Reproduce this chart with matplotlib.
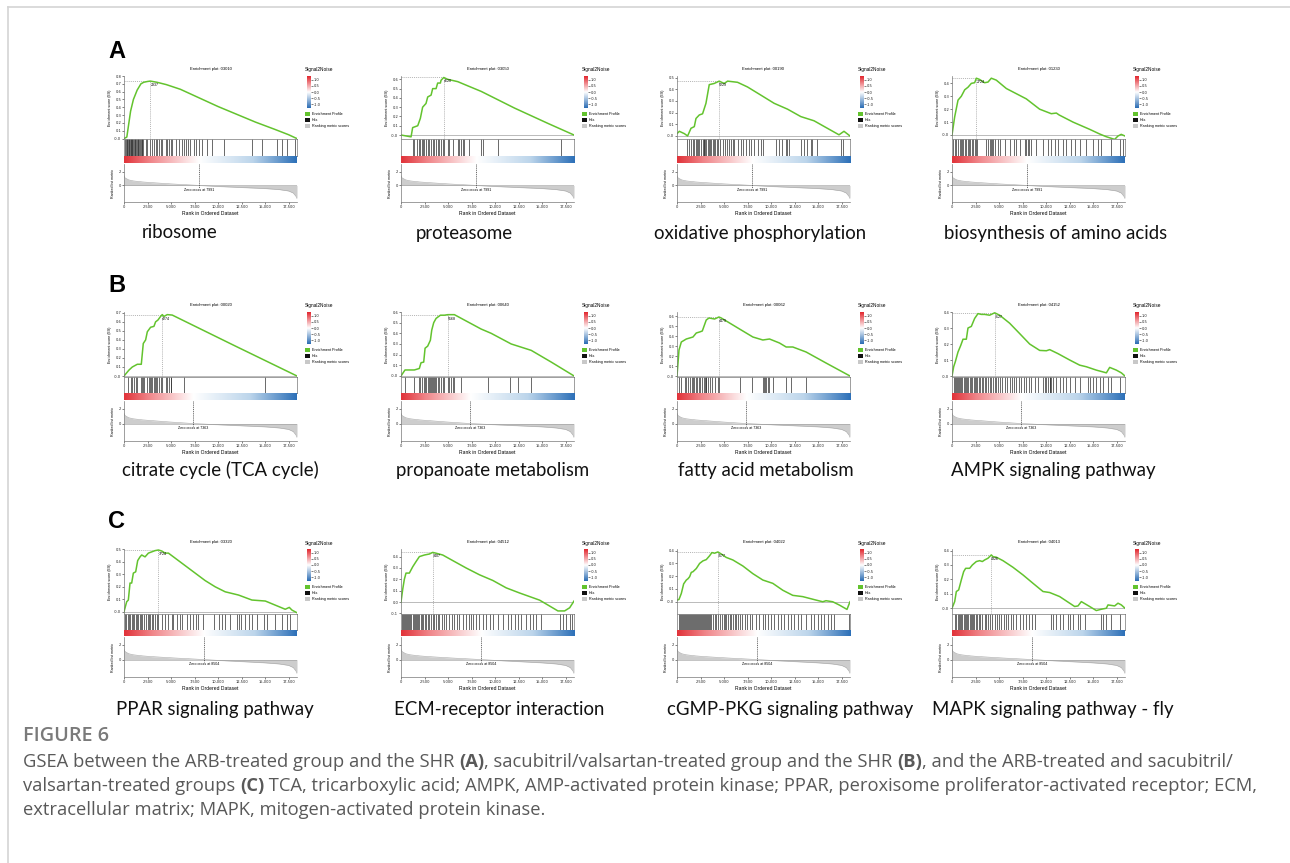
import numpy as np
import matplotlib
matplotlib.use('Agg')
import matplotlib.pyplot as plt
from matplotlib.colors import LinearSegmentedColormap
from matplotlib.patches import Rectangle

W, H = 1290, 863

# ---------------- data ----------------
PATHWAYS = ['ribosome', 'proteasome', 'oxidative phosphorylation', 'biosynthesis of amino acids',
            'citrate cycle (TCA cycle)', 'propanoate metabolism', 'fatty acid metabolism', 'AMPK signaling pathway',
            'PPAR signaling pathway', 'ECM-receptor interaction', 'cGMP-PKG signaling pathway',
            'MAPK signaling pathway - fly']
KEGG_IDS = ['03010', '03050', '00190', '01230', '00020', '00640', '00062', '04152',
            '03320', '04512', '04022', '04013']
PEAK_LABELS = ['2937', '4620', '5229', '2724', '4274', '5168', '4479', '3127',
               '3724', '3407', '3577', '4326']
ROW_LETTERS = ['A', 'B', 'C']
ZERO_CROSS = [7991, 7363, 8504]
N_GENES = 18400
X_TICKS = [0, 2500, 5000, 7500, 10000, 12500, 15000, 17500]
X_TICK_LABELS = ['0', '2,500', '5,000', '7,500', '10,000', '12,500', '15,000', '17,500']

# ranked list metric (same shape per row, shifted zero cross)
RANK_METRIC = [1.4, 1.1, 0.8, 0.65, 0.5, 0.4, 0.22, 0.0, -0.15, -0.3, -0.45, -0.6, -0.8, -1.1, -1.6, -1.9]
RANK_POS_A = [0, 100, 500, 1000, 2000, 3000, 5000, 7991, 10000, 12500, 15000, 16500, 17500, 18000, 18300, 18400]
RANK_POS_B = [0, 100, 500, 1000, 2000, 3000, 4800, 7363, 9800, 12400, 15000, 16500, 17500, 18000, 18300, 18400]
RANK_POS_C = [0, 100, 500, 1000, 2000, 3000, 5300, 8504, 10500, 12800, 15000, 16500, 17500, 18000, 18300, 18400]

# running enrichment scores (rank, ES)
ES_RIBOSOME = [(0, 0.0), (300, 0.02), (700, 0.35), (1000, 0.5), (1400, 0.62), (1800, 0.7), (2100, 0.72),
               (2500, 0.73), (2800, 0.735), (3500, 0.72), (4500, 0.69), (6000, 0.63), (8000, 0.52),
               (10000, 0.41), (12000, 0.31), (14000, 0.21), (16000, 0.12), (17500, 0.05), (18400, 0.0)]
ES_PROTEASOME = [(0, 0.0), (1070, -0.02), (1240, 0.08), (1780, 0.10), (2060, 0.18), (2300, 0.30), (2660, 0.34),
                 (2840, 0.41), (3200, 0.43), (3370, 0.50), (3730, 0.50), (3900, 0.56), (4190, 0.56), (4260, 0.59),
                 (4550, 0.62), (4970, 0.60), (6040, 0.575), (7100, 0.53), (8530, 0.47), (12080, 0.29),
                 (15630, 0.125), (18400, 0.0)]
ES_OXPHOS = [(0, 0.02), (250, 0.04), (780, 0.02), (1130, 0.0), (1490, 0.066), (1840, 0.08), (2020, 0.15),
             (2370, 0.18), (2720, 0.19), (3080, 0.28), (3430, 0.44), (3960, 0.45), (4490, 0.47), (5020, 0.45),
             (5380, 0.47), (6440, 0.46), (7500, 0.42), (8920, 0.35), (10330, 0.28), (11750, 0.23),
             (13170, 0.166), (14580, 0.13), (15990, 0.066), (17230, 0.01), (17760, 0.04), (18400, 0.0)]
ES_AMINO = [(0, 0.0), (283, 0.14), (640, 0.27), (990, 0.30), (1350, 0.35), (1700, 0.37), (2060, 0.40),
            (2410, 0.405), (2590, 0.44), (2940, 0.43), (3470, 0.405), (3830, 0.41), (4180, 0.44), (4710, 0.425),
            (5780, 0.36), (6840, 0.32), (7900, 0.28), (9320, 0.20), (10560, 0.165), (11100, 0.17), (11400, 0.155),
            (12870, 0.10), (14640, 0.044), (15700, 0.008), (16400, -0.013), (17300, -0.034), (17650, -0.008),
            (18000, 0.005), (18400, -0.008)]
ES_TCA = [(0, 0.0), (530, 0.066), (885, 0.10), (1415, 0.13), (1840, 0.13), (2050, 0.36), (2300, 0.40),
          (2480, 0.49), (2830, 0.54), (3185, 0.55), (3360, 0.60), (3610, 0.62), (3890, 0.66), (4070, 0.68),
          (4250, 0.66), (4600, 0.68), (5130, 0.675), (11680, 0.34), (18400, 0.0)]
ES_PROPANOATE = [(0, 0.0), (426, 0.056), (1420, 0.056), (1950, 0.07), (2130, 0.124), (2415, 0.13), (2560, 0.26),
                 (2840, 0.28), (3125, 0.335), (3270, 0.43), (3480, 0.50), (3730, 0.54), (4190, 0.57),
                 (4620, 0.57), (4970, 0.575), (5680, 0.575), (8525, 0.44), (9590, 0.40), (11720, 0.30),
                 (13850, 0.24), (15980, 0.13), (18400, 0.0)]
ES_FATTY = [(0, 0.0), (212, 0.26), (460, 0.34), (990, 0.37), (1700, 0.39), (2050, 0.43), (2400, 0.44),
            (2690, 0.45), (3110, 0.56), (3400, 0.58), (4000, 0.57), (4460, 0.59), (4710, 0.58), (6650, 0.47),
            (8070, 0.39), (9130, 0.36), (9840, 0.37), (10900, 0.33), (11610, 0.29), (12320, 0.29),
            (13730, 0.24), (15850, 0.13), (18400, 0.0)]
ES_AMPK = [(0, 0.0), (177, 0.058), (355, 0.09), (638, 0.15), (922, 0.19), (1170, 0.23), (1525, 0.23),
           (1700, 0.30), (2056, 0.31), (2410, 0.36), (2765, 0.39), (3120, 0.385), (3475, 0.385), (4000, 0.38),
           (4540, 0.395), (5070, 0.38), (6130, 0.33), (7200, 0.265), (8260, 0.20), (9330, 0.16), (10040, 0.158),
           (10390, 0.165), (11270, 0.14), (12520, 0.10), (13580, 0.068), (14290, 0.058), (15350, 0.037),
           (16420, 0.02), (16770, 0.054), (17480, 0.037), (18010, 0.02), (18400, 0.0)]
ES_PPAR = [(0, 0.0), (284, 0.08), (462, 0.094), (640, 0.23), (817, 0.23), (995, 0.31), (1243, 0.32),
           (1456, 0.41), (1705, 0.44), (1883, 0.455), (2238, 0.44), (2593, 0.47), (2948, 0.48), (3303, 0.49),
           (3659, 0.495), (4014, 0.487), (4369, 0.47), (4725, 0.47), (5790, 0.41), (7210, 0.33), (8630, 0.25),
           (9700, 0.20), (10760, 0.16), (12180, 0.134), (13600, 0.094), (15030, 0.086), (16090, 0.053),
           (17150, 0.02), (17580, 0.035), (17870, 0.013), (18400, -0.008)]
ES_ECM = [(0, 0.0), (178, 0.11), (355, 0.20), (533, 0.255), (888, 0.255), (1243, 0.31), (1598, 0.356),
          (1954, 0.40), (2486, 0.414), (3019, 0.423), (3374, 0.437), (3730, 0.43), (4440, 0.414), (5506, 0.365),
          (6927, 0.30), (8348, 0.24), (9769, 0.19), (11190, 0.125), (12610, 0.08), (14030, 0.038),
          (14740, 0.017), (15810, -0.035), (16690, -0.078), (17400, -0.078), (17940, -0.05), (18400, 0.009)]
ES_CGMP = [(0, 0.013), (212, 0.018), (460, 0.065), (708, 0.14), (991, 0.17), (1168, 0.18), (1345, 0.196),
           (1521, 0.23), (1698, 0.235), (2052, 0.26), (2406, 0.30), (2760, 0.32), (3114, 0.33), (3467, 0.36),
           (3715, 0.385), (3998, 0.38), (4352, 0.39), (4706, 0.374), (5237, 0.347), (5944, 0.327), (7005, 0.28),
           (8067, 0.22), (9129, 0.17), (10190, 0.144), (11252, 0.09), (12313, 0.05), (13375, 0.04),
           (14790, 0.013), (15500, 0.0), (15850, 0.008), (16560, 0.0), (17270, -0.026), (18080, -0.06),
           (18400, 0.0)]
ES_MAPK = [(0, 0.0), (284, 0.046), (461, 0.116), (709, 0.127), (993, 0.197), (1241, 0.254), (1453, 0.277),
           (1879, 0.277), (2162, 0.30), (2588, 0.324), (2942, 0.33), (3226, 0.324), (3474, 0.335), (3829, 0.347),
           (4183, 0.37), (4360, 0.358), (4715, 0.354), (5424, 0.33), (6487, 0.284), (7551, 0.231), (8615, 0.173),
           (9678, 0.116), (10387, 0.109), (11450, 0.081), (12514, 0.035), (13046, 0.012), (13400, 0.016),
           (13755, 0.046), (14641, 0.012), (15350, -0.016), (15882, -0.007), (16414, 0.0), (16591, 0.023),
           (17300, 0.016), (17655, 0.035), (18010, 0.023), (18400, 0.0)]

# gene set hit positions (ranks)
HITS_RIBOSOME = [150, 220, 300, 360, 420, 480, 560, 620, 700, 760, 830, 900, 980, 1050, 1130, 1200, 1290, 1370,
                 1450, 1540, 1620, 1700, 1790, 1880, 1960, 2050, 2300, 2480, 2760, 3000, 3200, 3360, 3540, 3720,
                 3890, 4070, 4420, 4600, 4780, 4950, 5130, 5480, 5840, 6190, 6370, 6550, 6790, 7000, 7430, 7610,
                 7960, 8310, 8840, 9370, 10680, 13620, 14680, 16270, 16800, 17330, 18220]
HITS_PROTEASOME = [1243, 1421, 1705, 1883, 2060, 2202, 2380, 2487, 2664, 2842, 3019, 3197, 3375, 3552, 3730,
                   3907, 4085, 4263, 4440, 4547, 4973, 5150, 5506, 6039, 6216, 6394, 6571, 6749, 7282, 8525,
                   8703, 10301, 17050]
HITS_OXPHOS = [1062, 1309, 1486, 1663, 1840, 2017, 2123, 2265, 2371, 2548, 2725, 2831, 2902, 3008, 3114, 3255,
               3362, 3468, 3609, 3786, 3963, 4069, 4246, 4388, 4600, 4848, 5095, 5308, 5555, 5732, 5909, 6086,
               6440, 6794, 6971, 7325, 7679, 7855, 8209, 8563, 8917, 9094, 10509, 10863, 11217, 11571, 11748,
               11925, 13163, 13517, 13871, 14225, 14402, 14933, 17409, 17692]
HITS_AMINO = [106, 284, 461, 638, 815, 922, 1064, 1170, 1347, 1524, 1702, 1808, 1950, 2092, 2233, 2411, 2588,
              2694, 3651, 3829, 4006, 4112, 4254, 4360, 4538, 4892, 5070, 5601, 6133, 6558, 6842, 7197, 7728,
              7905, 8082, 8189, 8437, 8969, 9678, 10210, 10564, 10919, 11273, 11805, 12160, 12692, 13046, 13578,
              14287, 14996, 15528, 15882, 16946, 17832, 18186]
HITS_TCA = [460, 708, 885, 1062, 1238, 1415, 1840, 1946, 2052, 2123, 2477, 2654, 2760, 2901, 3007, 3184, 3290,
            3432, 3538, 3715, 3892, 4069, 4423, 4600, 4777, 4954, 5024, 6369, 15037]
HITS_PROPANOATE = [426, 1421, 1954, 2060, 2202, 2415, 2557, 2664, 2842, 2948, 3055, 3197, 3303, 3410, 3552,
                   3659, 3765, 3907, 4085, 4263, 4440, 4618, 4973, 5150, 5328, 5506, 5683, 6394, 9306, 11544,
                   12432, 13853]
HITS_FATTY = [212, 460, 814, 991, 1168, 1345, 1557, 1698, 1805, 1982, 2158, 2335, 2477, 2689, 2831, 2937, 3043,
              3114, 3291, 3468, 3751, 3998, 4352, 4458, 6652, 7996, 9129, 9235, 9376, 9483, 9660, 9837, 10190,
              11606, 12136, 13728]
HITS_AMPK = [177, 284, 390, 532, 638, 744, 886, 993, 1099, 1241, 1383, 1524, 1631, 1737, 1879, 2021, 2162, 2304,
             2446, 2588, 2694, 2836, 3013, 3155, 3297, 3474, 3651, 3829, 4006, 4183, 4360, 4538, 4715, 4928,
             5140, 5353, 5601, 5849, 6133, 6416, 6629, 6842, 7125, 7374, 7622, 7905, 8189, 8437, 8792, 9146,
             9678, 9855, 10033, 10210, 10387, 10458, 10564, 10742, 11096, 11450, 11805, 12160, 12514, 13046,
             13578, 14464, 14712, 14996, 15350, 15705, 16059, 16591, 16946, 17832]
HITS_PPAR = [107, 249, 391, 533, 675, 817, 959, 1101, 1243, 1385, 1527, 1669, 1812, 1954, 2096, 2309, 2522,
             2664, 2806, 2948, 3126, 3303, 3481, 3659, 4014, 4369, 4724, 5079, 5257, 5612, 5967, 6145, 6678,
             7033, 7388, 7637, 7921, 8454, 9520, 10052, 10407, 10763, 11296, 12006, 12184, 12468, 12894, 13249,
             13604, 14137, 14848, 15203, 16091, 16801, 17334, 17689]
HITS_ECM = [107, 249, 355, 462, 568, 675, 781, 888, 995, 1101, 1243, 1350, 1456, 1598, 1705, 1847, 1954, 2096,
            2238, 2380, 2522, 2664, 2842, 3019, 3197, 3374, 3552, 3730, 3907, 4085, 4369, 4618, 4795, 5150,
            5435, 5683, 5932, 6216, 6571, 6927, 7211, 7459, 7637, 7992, 8348, 8703, 9058, 9413, 9768, 10301,
            10834, 11366, 11722, 12077, 12432, 12787, 13320, 13675, 14030, 14386, 14918, 16872, 17227, 17583,
            17938, 18222]
HITS_CGMP = [212, 354, 460, 566, 672, 778, 885, 991, 1097, 1203, 1309, 1415, 1521, 1628, 1734, 1840, 1946, 2052,
             2158, 2264, 2370, 2477, 2583, 2689, 2795, 2901, 3007, 3113, 3220, 3326, 3432, 3538, 3644, 3821,
             3998, 4175, 4387, 4599, 4812, 4953, 5095, 5236, 5413, 5590, 5767, 5944, 6121, 6298, 6510, 6722,
             6934, 7182, 7430, 7713, 7996, 8420, 8774, 9128, 9411, 9659, 10013, 10366, 10720, 11074, 11428,
             11782, 12135, 12489, 12843, 13197, 13727, 14258, 14612, 14966, 15320, 15673, 16027, 16381, 16735,
             18327]
HITS_MAPK = [284, 461, 638, 744, 886, 993, 1099, 1241, 1347, 1453, 1595, 1702, 1879, 1985, 2127, 2233, 2375,
             2517, 2659, 2871, 3013, 3226, 3474, 3651, 3829, 4077, 4289, 4538, 4786, 4998, 5247, 5495, 5707,
             5956, 6310, 6487, 6842, 7196, 7551, 7905, 8189, 8543, 8792, 10564, 10741, 11096, 11450, 11805,
             12337, 12514, 12868, 13400, 13578, 14109, 15882, 16059, 16414, 16946, 17832]

ES_CURVES = [ES_RIBOSOME, ES_PROTEASOME, ES_OXPHOS, ES_AMINO, ES_TCA, ES_PROPANOATE, ES_FATTY, ES_AMPK,
             ES_PPAR, ES_ECM, ES_CGMP, ES_MAPK]
HITS = [HITS_RIBOSOME, HITS_PROTEASOME, HITS_OXPHOS, HITS_AMINO, HITS_TCA, HITS_PROPANOATE, HITS_FATTY,
        HITS_AMPK, HITS_PPAR, HITS_ECM, HITS_CGMP, HITS_MAPK]
RANK_POS = [RANK_POS_A, RANK_POS_B, RANK_POS_C]

CAPTION_TITLE = 'FIGURE 6'
CAPTION_LINES = [
    [('GSEA between the ARB-treated group and the SHR ', False), ('(A)', True),
     (', sacubitril/valsartan-treated group and the SHR ', False), ('(B)', True),
     (', and the ARB-treated and sacubitril/', False)],
    [('valsartan-treated groups ', False), ('(C)', True),
     (' TCA, tricarboxylic acid; AMPK, AMP-activated protein kinase; PPAR, peroxisome proliferator-activated receptor; ECM,', False)],
    [('extracellular matrix; MAPK, mitogen-activated protein kinase.', False)],
]

# ---------------- layout (pixels) ----------------
ROWS = [
    dict(es=(76, 139), hits=(139, 156), strip=(156, 163), rank=(164, 202), label=233, letter=52),
    dict(es=(312, 377), hits=(377, 393), strip=(393, 400), rank=(401, 441), label=470, letter=286),
    dict(es=(549, 614), hits=(614, 630), strip=(630, 636), rank=(637, 677), label=709, letter=521),
]
COLS = [(124, 297), (401, 574), (677, 850), (952, 1125)]
LABEL_X = [180, 464, 760, 1056, 220, 493, 766, 1053, 215, 499, 790, 1053]
ES_YLIM = [(-0.005, 0.8), (-0.043, 0.636), (-0.026, 0.514), (-0.031, 0.457), (-0.011, 0.709), (-0.01, 0.6),
           (-0.01, 0.64), (-0.006, 0.4), (-0.018, 0.503), (-0.105, 0.467), (-0.096, 0.413), (-0.04, 0.411)]
RANK_YLIM = (-2.4, 3.1)

GREEN = '#63c32e'
SMALL = 'Liberation Sans'
LABEL_FONT = 'Lato'
CAP_FONT = 'Open Sans'

fig = plt.figure(figsize=(W / 100, H / 100), dpi=100)
fig.patch.set_facecolor('white')


def px_axes(x0, y0, x1, y1):
    return fig.add_axes([x0 / W, 1 - y1 / H, (x1 - x0) / W, (y1 - y0) / H])


def fx(x):
    return x / W


def fy(y):
    return 1 - y / H


def strip_cmap(z):
    return LinearSegmentedColormap.from_list('s', [(0, '#e1333a'), (z * 0.35, '#f08589'), (z, '#ffffff'),
                                                   (z + (1 - z) * 0.55, '#bcd5eb'), (1, '#2d70b8')])


BAR_CMAP = LinearSegmentedColormap.from_list('b', ['#2a6cb4', '#ffffff', '#e2262e'])


def style_small(ax):
    ax.tick_params(labelsize=2.6, length=1.2, width=0.4, pad=0.8, colors='#222222')
    for s in ax.spines.values():
        s.set_linewidth(0.5)
        s.set_color('#777777')


def draw_legend(x, ytop):
    fig.text(fx(x), fy(ytop), 'Signal2Noise', fontsize=3.4, family=SMALL, va='center', ha='left')
    cax = px_axes(x + 2, ytop + 6, x + 6, ytop + 38)
    cax.imshow(np.linspace(-1.3, 1.3, 200)[:, None], aspect='auto', cmap=BAR_CMAP, origin='lower',
               extent=[0, 1, -1.3, 1.3])
    cax.set_xticks([])
    cax.yaxis.tick_right()
    cax.set_yticks([1.0, 0.5, 0.0, -0.5, -1.0])
    cax.set_yticklabels(['1.0', '0.5', '0.0', '-0.5', '-1.0'])
    style_small(cax)
    for s in cax.spines.values():
        s.set_visible(False)
    items = [(GREEN, 'Enrichment Profile'), ('#111111', 'Hits'), ('#c8c8c8', 'Ranking metric scores')]
    for j, (col, txt) in enumerate(items):
        yy = ytop + 44 + j * 6
        fig.add_artist(Rectangle((fx(x), fy(yy + 2)), 5 / W, 4 / H, transform=fig.transFigure,
                                 facecolor=col, edgecolor='none'))
        fig.text(fx(x + 7), fy(yy), txt, fontsize=2.7, family=SMALL, va='center', ha='left')


def draw_panel(i):
    r, c = divmod(i, 4)
    row = ROWS[r]
    x0, x1 = COLS[c]
    es = np.array(ES_CURVES[i])
    lo, hi = ES_YLIM[i]

    # running enrichment score
    ax = px_axes(x0, row['es'][0], x1, row['es'][1])
    ax.axhline(0, color='#b0b0b0', lw=0.6)
    k = np.argmax(es[:, 1])
    pr, pv = es[k]
    ax.plot([0, pr], [pv, pv], color='#9a9a9a', lw=0.5, ls=(0, (1.5, 1.5)))
    ax.plot([pr, pr], [lo, pv], color='#9a9a9a', lw=0.5, ls=(0, (1.5, 1.5)))
    ax.plot(es[:, 0], es[:, 1], color=GREEN, lw=1.1, solid_joinstyle='round')
    ax.text(pr, pv - (hi - lo) * 0.03, PEAK_LABELS[i], fontsize=2.6, family=SMALL, ha='left', va='top')
    ax.set_xlim(0, N_GENES)
    ax.set_ylim(lo, hi)
    ax.set_xticks([])
    yt = np.round(np.arange(np.ceil(lo * 10 - 1e-6) / 10, hi + 1e-6, 0.1), 1)
    ax.set_yticks(yt)
    ax.set_yticklabels(['%.1f' % v for v in yt])
    ax.set_ylabel('Enrichment score (ES)', fontsize=2.6, family=SMALL, labelpad=1.5)
    ax.set_title('Enrichment plot: ' + KEGG_IDS[i], fontsize=3.0, family=SMALL, pad=4)
    style_small(ax)
    ax.spines['top'].set_visible(False)
    ax.spines['right'].set_visible(False)

    # hits
    hx = px_axes(x0, row['hits'][0], x1, row['hits'][1])
    hx.vlines(HITS[i], 0, 1, color='#2e2e2e', lw=0.5)
    hx.set_xlim(0, N_GENES)
    hx.set_ylim(0, 1)
    hx.set_xticks([])
    hx.set_yticks([])
    style_small(hx)

    # colour strip
    sx = px_axes(x0, row['strip'][0], x1, row['strip'][1])
    sx.imshow(np.linspace(0, 1, 600)[None, :], aspect='auto', cmap=strip_cmap(ZERO_CROSS[r] / N_GENES),
              extent=[0, N_GENES, 0, 1])
    sx.set_xticks([])
    sx.set_yticks([])
    for s in sx.spines.values():
        s.set_visible(False)

    # ranked list metric
    rx = px_axes(x0, row['rank'][0], x1, row['rank'][1])
    rx.fill_between(RANK_POS[r], 0, RANK_METRIC, color='#cdcdcd', lw=0)
    rx.plot(RANK_POS[r], RANK_METRIC, color='#a8a8a8', lw=0.4)
    rx.axhline(0, color='#9a9a9a', lw=0.4)
    z = ZERO_CROSS[r]
    rx.plot([z, z], [RANK_YLIM[1], -0.35], color='#333333', lw=0.5, ls=(0, (1.5, 1.2)))
    rx.text(z, -0.6, 'Zero cross at %d' % z, fontsize=2.6, family=SMALL, ha='center', va='center')
    rx.set_xlim(0, N_GENES)
    rx.set_ylim(*RANK_YLIM)
    rx.set_xticks(X_TICKS)
    rx.set_xticklabels(X_TICK_LABELS)
    rx.set_yticks([0, 2])
    rx.set_yticklabels(['0', '2'])
    rx.set_ylabel('Ranked list metric', fontsize=2.6, family=SMALL, labelpad=2.5)
    rx.set_xlabel('Rank in Ordered Dataset', fontsize=3.6, family=SMALL, labelpad=1.5)
    style_small(rx)
    rx.spines['top'].set_visible(False)
    rx.spines['right'].set_visible(False)

    draw_legend(x1 + 8, row['es'][0] - 6)

    fig.text(fx(LABEL_X[i]), fy(row['label']), PATHWAYS[i], fontsize=13.4, family=LABEL_FONT,
             ha='center', va='center', color='#111111')


for i in range(12):
    draw_panel(i)

for r in range(3):
    fig.text(fx(108), fy(ROWS[r]['letter']), ROW_LETTERS[r], fontsize=17, fontweight='bold',
             family=SMALL, ha='left', va='center')

# page frame
fig.add_artist(plt.Line2D([fx(8), 1], [fy(7), fy(7)], color='#d4d4d4', lw=1.2, transform=fig.transFigure))
fig.add_artist(plt.Line2D([fx(8), fx(8)], [fy(7), 0], color='#d4d4d4', lw=1.2, transform=fig.transFigure))

# caption
renderer = fig.canvas.get_renderer()


def advance(txt, size, bold):
    t1 = fig.text(0, 0, txt + '|', fontsize=size, family=CAP_FONT, fontweight='bold' if bold else 'normal')
    t2 = fig.text(0, 0, '|', fontsize=size, family=CAP_FONT, fontweight='bold' if bold else 'normal')
    w = t1.get_window_extent(renderer).width - t2.get_window_extent(renderer).width
    t1.remove()
    t2.remove()
    return w


base = 10.0
widths = [sum(advance(t, base, b) for t, b in CAPTION_LINES[j]) for j in (0, 1)]
cap_size = base * (1262 - 23) / max(widths)

fig.text(fx(23), fy(736), CAPTION_TITLE, fontsize=cap_size * 1.08, family=CAP_FONT, fontweight='semibold',
         color='#7a7a7a', ha='left', va='center')
for j, parts in enumerate(CAPTION_LINES):
    x = 23
    for txt, bold in parts:
        fig.text(fx(x), fy(762 + j * 24), txt, fontsize=cap_size, family=CAP_FONT,
                 fontweight='bold' if bold else 'normal', color='#595959', ha='left', va='center')
        x += advance(txt, cap_size, bold)

fig.savefig('out.png', dpi=100)
